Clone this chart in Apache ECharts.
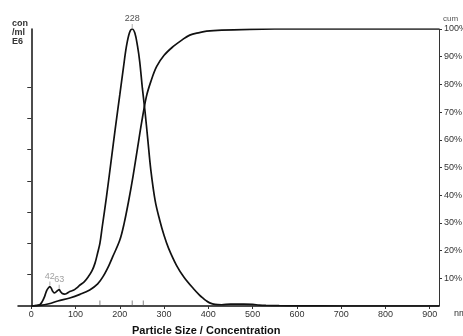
<!DOCTYPE html>
<html>
<head>
<meta charset="utf-8">
<script src="https://cdn.jsdelivr.net/npm/echarts@6/dist/echarts.min.js"></script>
<style>
  html, body { margin: 0; padding: 0; background: #fff; }
  #chart { width: 463px; height: 336px; }
</style>
</head>
<body>
<div id="chart"></div>
<script>
// particle size (nm) / concentration (E6 /ml)
const sizes = [0, 10, 20, 25, 30, 35, 40, 42, 45, 48, 52, 56, 60, 63, 66, 70, 75, 80, 87, 95, 102, 110, 120, 129, 137, 144, 150, 155, 160, 170, 180, 190, 200, 208, 215, 222, 228, 234, 240, 245, 251, 257, 263, 270, 280, 290, 300, 310, 328, 345, 366, 380, 388, 395, 403, 415, 430, 450, 480, 500, 515, 530, 560, 600, 700, 800, 921];
const concentration = [0, 0.01, 0.05, 0.15, 0.3, 0.5, 0.6, 0.62, 0.57, 0.48, 0.42, 0.45, 0.5, 0.52, 0.46, 0.4, 0.38, 0.4, 0.46, 0.5, 0.57, 0.67, 0.78, 0.94, 1.12, 1.37, 1.7, 2.0, 2.5, 3.5, 4.6, 5.7, 6.75, 7.6, 8.3, 8.74, 8.85, 8.72, 8.3, 7.8, 6.95, 6.2, 5.35, 4.35, 3.35, 2.75, 2.25, 1.85, 1.3, 0.92, 0.56, 0.35, 0.25, 0.17, 0.1, 0.05, 0.04, 0.06, 0.06, 0.05, 0.03, 0.02, 0.01, 0.005, 0, 0, 0];

// cumulative (%)
const cumSizes = [0, 20, 40, 60, 87, 110, 132, 150, 162, 175, 184, 200, 210, 220, 230, 240, 249, 260, 270, 283, 300, 320, 340, 358, 380, 396, 430, 494, 550, 921];
const cumulative = [0, 0.2, 0.8, 1.8, 2.9, 4.2, 5.8, 8, 10.6, 14.5, 17.8, 23.8, 30, 38, 47, 57, 66, 75.6, 81, 86.4, 90.5, 93.6, 96, 97.8, 98.7, 99.2, 99.6, 99.9, 100, 100];

const peakSizes = [42, 63, 228];
const peakValues = [0.62, 0.52, 8.85];
const markerSizes = [155, 228, 253];

const sizeTicks = [0, 100, 200, 300, 400, 500, 600, 700, 800, 900];
const concTicks = [1, 2, 3, 4, 5, 6, 7];
const cumTicks = [10, 20, 30, 40, 50, 60, 70, 80, 90, 100];

const FONT = '"Liberation Sans", Arial, sans-serif';
const chart = echarts.init(document.getElementById('chart'));

const peakData = peakSizes.map((s, i) => ({
  value: [s, peakValues[i]],
  label: { color: s > 100 ? '#222' : '#888' }
}));

const option = {
  animation: false,
  grid: { left: 18, right: 24, top: 29, bottom: 30, outerBoundsMode: 'none' },
  xAxis: {
    type: 'value',
    min: -30,
    max: 921,
    axisLine: { lineStyle: { color: '#111', width: 1.5 } },
    axisTick: { length: 3, customValues: sizeTicks, lineStyle: { color: '#333' } },
    axisLabel: { customValues: sizeTicks, color: '#333', fontSize: 9, fontFamily: FONT, margin: 4 },
    splitLine: { show: false }
  },
  yAxis: [
    {
      type: 'value',
      min: 0,
      max: 8.85,
      axisLine: { show: true, onZero: true, lineStyle: { color: '#111', width: 1.5 } },
      axisTick: { show: true, length: 4, customValues: concTicks, lineStyle: { color: '#333' } },
      axisLabel: { show: false },
      splitLine: { show: false }
    },
    {
      type: 'value',
      position: 'right',
      min: 0,
      max: 100,
      axisLine: { show: true, onZero: false, lineStyle: { color: '#333', width: 1 } },
      axisTick: { show: true, length: 3, customValues: cumTicks, lineStyle: { color: '#333' } },
      axisLabel: { customValues: cumTicks, color: '#333', fontSize: 9, fontFamily: FONT, margin: 5, formatter: '{value}%' },
      splitLine: { show: false }
    }
  ],
  series: [
    {
      name: 'Concentration',
      type: 'line',
      data: sizes.map((s, i) => [s, concentration[i]]),
      smooth: 0.35,
      symbol: 'none',
      lineStyle: { color: '#111', width: 1.7 },
      z: 3
    },
    {
      name: 'Cumulative',
      type: 'line',
      yAxisIndex: 1,
      data: cumSizes.map((s, i) => [s, cumulative[i]]),
      smooth: 0.35,
      symbol: 'none',
      lineStyle: { color: '#111', width: 1.7 },
      z: 3
    },
    {
      name: 'Peaks',
      type: 'scatter',
      data: peakData,
      symbol: 'rect',
      symbolSize: [1, 4],
      symbolOffset: [0, -3],
      itemStyle: { color: '#999' },
      label: {
        show: true,
        position: 'top',
        distance: 1,
        fontSize: 9,
        fontFamily: FONT,
        formatter: p => p.value[0]
      },
      z: 4
    },
    {
      name: 'Markers',
      type: 'scatter',
      data: markerSizes.map(s => [s, 0]),
      symbol: 'rect',
      symbolSize: [1, 5],
      symbolOffset: [0, -3],
      itemStyle: { color: '#666' },
      z: 2
    }
  ],
  graphic: [
    { type: 'text', left: 12, top: 19, style: { text: 'con\n/ml\nE6', fontSize: 9, lineHeight: 9, fontWeight: 'bold', fill: '#333', fontFamily: FONT } },
    { type: 'text', left: 443, top: 15, style: { text: 'cum', fontSize: 8, fill: '#555', fontFamily: FONT } },
    { type: 'text', left: 454, top: 309, style: { text: 'nm', fontSize: 9, fill: '#333', fontFamily: FONT } },
    { type: 'text', left: 132, top: 325, style: { text: 'Particle Size / Concentration', fontSize: 11, fontWeight: 'bold', fill: '#111', fontFamily: FONT } }
  ]
};

chart.setOption(option);
</script>
</body>
</html>
